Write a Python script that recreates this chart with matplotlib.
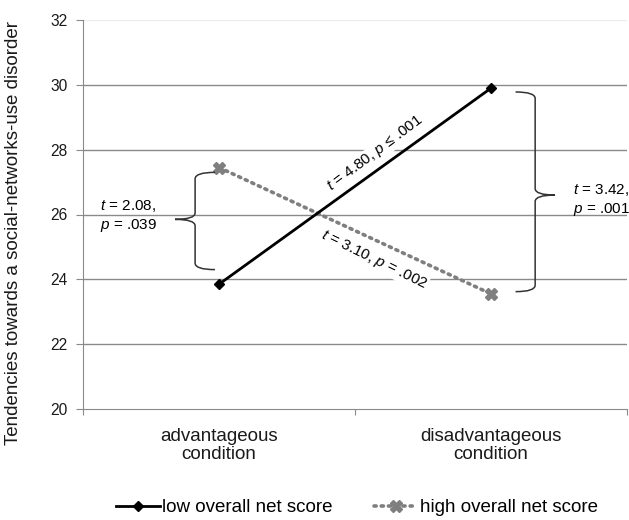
import matplotlib
matplotlib.use("Agg")
import matplotlib.pyplot as plt
from matplotlib.path import Path
from matplotlib.patches import PathPatch

plt.rcParams["font.family"] = ["Liberation Sans", "DejaVu Sans"]
plt.rcParams["mathtext.fontset"] = "custom"
plt.rcParams["mathtext.rm"] = "Liberation Sans"
plt.rcParams["mathtext.it"] = "Liberation Sans:italic"

# Data
conditions = ["advantageous\ncondition", "disadvantageous\ncondition"]
low_score = [23.85, 29.9]
high_score = [27.45, 23.55]
series_names = ["low overall net score", "high overall net score"]
y_ticks = [20, 22, 24, 26, 28, 30, 32]

fig = plt.figure(figsize=(6.29, 5.2), dpi=100)
ax = fig.add_axes([0.132, 0.2135, 0.865, 0.748])

xpos = [0.5, 1.5]
ax.set_xlim(0, 2)
ax.set_ylim(20, 32)

# horizontal gridlines
for v in y_ticks[1:-1]:
    ax.axhline(v, color="#8a8a8a", lw=1.0, zorder=1)
ax.axhline(32, color="#ececec", lw=1.0, zorder=1)

for s in ["top", "right"]:
    ax.spines[s].set_visible(False)
ax.spines["left"].set_color("#8a8a8a")
ax.spines["bottom"].set_color("#8a8a8a")

ax.set_yticks(y_ticks)
ax.set_yticklabels([str(v) for v in y_ticks], fontsize=11.2, color="#1a1a1a")
ax.tick_params(axis="y", length=5, color="#8a8a8a", pad=6)
ax.set_xticks([0, 1, 2])
ax.set_xticklabels([])
ax.set_xticks(xpos, minor=True)
ax.set_xticklabels(conditions, minor=True, fontsize=13.5, color="#1a1a1a",
                   linespacing=1.05)
ax.tick_params(axis="x", which="major", length=4, color="#8a8a8a")
ax.tick_params(axis="x", which="minor", length=0, pad=14)

ax.set_ylabel("Tendencies towards a social-networks-use disorder",
              fontsize=13.5, color="#1a1a1a")
ax.yaxis.set_label_coords(-0.112, 0.452)

ax.plot(xpos, low_score, color="black", lw=2, marker="D", ms=5,
        label=series_names[0], zorder=4)
ax.plot(xpos, high_score, color="#7f7f7f", lw=2.6, ls=(0, (0.6, 1.4)),
        dash_capstyle="round", marker="X", ms=9, mec="#7f7f7f",
        label=series_names[1], zorder=3)


def brace(x_end, x_vert, x_tip, y_top, y_mid, y_bot, r=0.2):
    verts = [
        (x_end, y_top),
        (x_vert, y_top), (x_vert, y_top - r),
        (x_vert, y_mid + r),
        (x_vert, y_mid), (x_tip, y_mid),
        (x_vert, y_mid), (x_vert, y_mid - r),
        (x_vert, y_bot + r),
        (x_vert, y_bot), (x_end, y_bot),
    ]
    codes = [Path.MOVETO,
             Path.CURVE3, Path.CURVE3,
             Path.LINETO,
             Path.CURVE3, Path.CURVE3,
             Path.CURVE3, Path.CURVE3,
             Path.LINETO,
             Path.CURVE3, Path.CURVE3]
    ax.add_patch(PathPatch(Path(verts, codes), fill=False,
                           edgecolor="#333333", lw=1.1, zorder=5))


brace(0.485, 0.412, 0.338, 27.3, 25.85, 24.3)
brace(1.59, 1.662, 1.735, 29.78, 26.6, 23.62)

tfs = 11
ax.text(0.063, 25.95, r"$\it{t}$ = 2.08," + "\n" + r"$\it{p}$ = .039",
        fontsize=tfs, ha="left", va="center", linespacing=1.25, zorder=6)
ax.text(1.802, 26.45, r"$\it{t}$ = 3.42," + "\n" + r"$\it{p}$ = .001",
        fontsize=tfs, ha="left", va="center", linespacing=1.25, zorder=6)
ax.text(1.075, 27.89, r"$\it{t}$ = 4.80, $\it{p}$ ≤ .001", fontsize=tfs,
        rotation=37, ha="center", va="center", rotation_mode="anchor",
        zorder=2, bbox=dict(fc="white", ec="none", pad=0.5))
ax.text(1.07, 24.6, r"$\it{t}$ = 3.10, $\it{p}$ = .002", fontsize=tfs,
        rotation=-26, ha="center", va="center", rotation_mode="anchor",
        zorder=2, bbox=dict(fc="white", ec="none", pad=0.5))

fig.legend(loc="center", bbox_to_anchor=(0.568, 0.024), ncol=2,
           frameon=False, fontsize=13.5, handlelength=2.3, columnspacing=2.2,
           handletextpad=0.15)

fig.savefig("out.png", dpi=100, facecolor="white")
